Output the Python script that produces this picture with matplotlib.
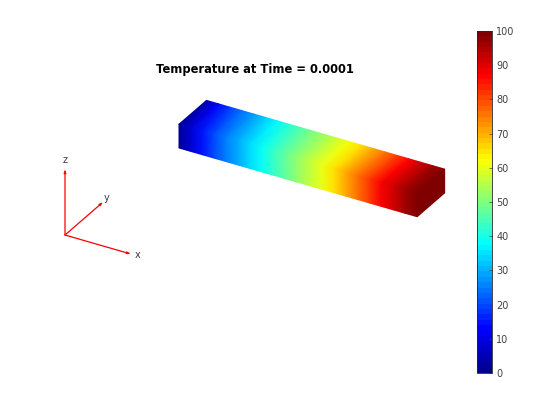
"""
Temperature on a bar at one time step, drawn as an orthographic 3D view
"""

import numpy as np
import matplotlib
matplotlib.use('Agg')
import matplotlib.pyplot as plt
from matplotlib.cm import ScalarMappable
from matplotlib.colors import LinearSegmentedColormap, Normalize

# station along the bar (length units) and temperature read on the near and far long edges
stations = [0.0, 0.5, 1.0, 1.5, 2.0, 2.5, 3.0, 3.5, 4.0, 4.5, 5.0,
            5.5, 6.0, 6.5, 7.0, 7.5, 8.0, 8.5, 9.0, 9.5, 10.0]
temp_front = [1.0, 7.5, 14.5, 20.0, 25.0, 29.5, 34.0, 38.5, 43.0, 47.5, 52.0,
              56.5, 60.5, 65.5, 71.0, 76.5, 82.0, 88.0, 92.0, 96.5, 100.0]
temp_back = [3.0, 13.0, 18.5, 24.0, 28.0, 33.0, 37.5, 42.0, 46.0, 50.0, 53.5,
             57.5, 61.5, 65.5, 71.0, 76.0, 81.5, 87.0, 92.0, 96.5, 100.0]

bar_width = 2.0
bar_height = 1.0
cbar_ticks = [0, 10, 20, 30, 40, 50, 60, 70, 80, 90, 100]
title_text = 'Temperature at Time = 0.0001'

AZ = np.deg2rad(30)
EL = np.deg2rad(30)
PX_PER_UNIT = 27.5
TEXT_COLOR = '#404040'

# matlab style jet, the matplotlib one has its knots in slightly other places
jet_knots = [(0.0, '#000090'), (0.125, '#0000ff'), (0.375, '#00ffff'),
             (0.625, '#ffff00'), (0.875, '#ff0000'), (1.0, '#800000')]
cmap_bar = LinearSegmentedColormap.from_list('jet_fine', jet_knots, N=256)
cmap_cbar = LinearSegmentedColormap.from_list('jet_64', jet_knots, N=64)
norm = Normalize(0, 100)


def project(x, y, z):
    """same view as az=30, el=30, no perspective"""
    sx = np.cos(AZ) * x + np.sin(AZ) * y
    sy = -np.sin(AZ) * np.sin(EL) * x + np.cos(AZ) * np.sin(EL) * y + np.cos(EL) * z
    return sx, sy


def draw_face(ax, x, y, z, c):
    sx, sy = project(x, y, z)
    ax.pcolormesh(sx, sy, c, shading='gouraud', cmap=cmap_bar, norm=norm)


fig = plt.figure(figsize=(5.6, 4.2), dpi=100)

# main axes fills the figure, bar corner sits at pixel (179, 148)
ax = fig.add_axes([0, 0, 1, 1])
ax.set_xlim(-179 / PX_PER_UNIT, (560 - 179) / PX_PER_UNIT)
ax.set_ylim(-(420 - 148) / PX_PER_UNIT, 148 / PX_PER_UNIT)
ax.axis('off')

xs = np.array(stations)
front = np.array(temp_front)
back = np.array(temp_back)
length = xs[-1]
x2 = np.vstack([xs, xs])

# front, top and the right end are the visible faces
draw_face(ax, x2, np.zeros_like(x2),
          np.vstack([np.zeros_like(xs), np.full_like(xs, bar_height)]),
          np.vstack([front, front]))
draw_face(ax, x2, np.vstack([np.zeros_like(xs), np.full_like(xs, bar_width)]),
          np.full_like(x2, bar_height),
          np.vstack([front, back]))
draw_face(ax,
          np.full((2, 2), length),
          np.array([[0, bar_width], [0, bar_width]]),
          np.array([[0, 0], [bar_height, bar_height]]),
          np.full((2, 2), front[-1]))

fig.text(254.5 / 560, 1 - 70 / 420, title_text, ha='center', va='center',
         fontsize=8.3, fontweight='bold', color='black')

# orientation triad, origin at pixel (65, 235)
ax_triad = fig.add_axes([0, 0, 1, 1])
ax_triad.set_xlim(-65 / 76, (560 - 65) / 76)
ax_triad.set_ylim(-(420 - 235) / 76, 235 / 76)
ax_triad.axis('off')
ax_triad.patch.set_alpha(0)

for name, vec, offset in [('x', (1, 0, 0), (7, -1)),
                          ('y', (0, 1, 0), (4, 4)),
                          ('z', (0, 0, 1), (0, 9))]:
    sx, sy = project(*vec)
    ax_triad.annotate('', xy=(sx, sy), xytext=(0, 0),
                      arrowprops=dict(arrowstyle='-|>,head_width=0.06,head_length=0.18',
                                      color='red', lw=0.9, shrinkA=0, shrinkB=0))
    ax_triad.annotate(name, xy=(sx, sy), xytext=offset, textcoords='offset pixels',
                      ha='center', va='center', fontsize=7, color=TEXT_COLOR)

# colorbar
cax = fig.add_axes([477 / 560, 1 - 373 / 420, 15 / 560, 342 / 420])
cb = fig.colorbar(ScalarMappable(norm=norm, cmap=cmap_cbar), cax=cax)
cb.set_ticks(cbar_ticks)
cb.ax.tick_params(direction='in', length=2.5, width=0.5, labelsize=7,
                  colors=TEXT_COLOR, pad=3)
cb.outline.set_linewidth(0.6)
cb.outline.set_edgecolor('#262626')

fig.savefig('out.png', dpi=100)
